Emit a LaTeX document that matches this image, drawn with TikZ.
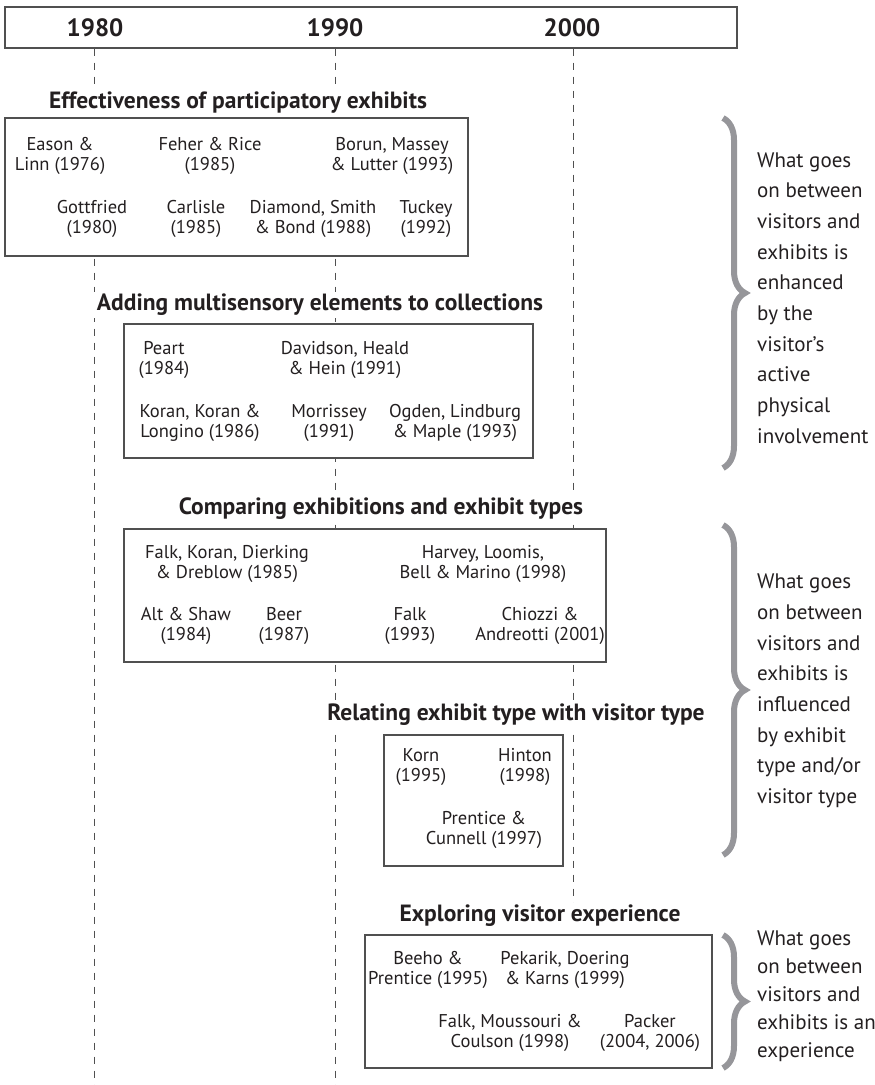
\documentclass[tikz,border=0pt]{standalone}
\usepackage{fontspec}
\setmainfont{PT Sans}
\usetikzlibrary{positioning,decorations.pathreplacing}
\definecolor{ink}{RGB}{35,31,32}
\definecolor{rule}{RGB}{80,80,80}
\definecolor{bracegray}{RGB}{150,150,154}

\tikzset{
  year/.style={font=\bfseries\fontsize{25}{28}\selectfont, text=ink},
  heading/.style={font=\bfseries\fontsize{23.5}{26}\selectfont, text=ink, fill=white, inner xsep=6pt, inner ysep=2pt},
  panel/.style={draw=rule, line width=1.1pt, fill=white, inner sep=0pt},
  study/.style={font=\fontsize{18.5}{19.5}\selectfont, text=ink, align=center, inner sep=0pt},
  note/.style={font=\fontsize{21}{30.7}\selectfont, text=ink, align=left, anchor=west, inner sep=0pt},
  tick/.style={draw=rule, line width=0.8pt, dash pattern=on 7pt off 7pt},
  bracket/.style={draw=bracegray, line width=6pt, decorate, decoration={brace, amplitude=22pt}}
}

\begin{document}
\begin{tikzpicture}[x=1pt, y=-1pt]
\useasboundingbox (0,0) rectangle (875,1085);

% Timeline header
\node[draw=rule, line width=1.1pt, minimum width=732, minimum height=41, inner sep=0pt] (header) at (371,27.5) {};
\node[year] (y1980) at (95,28) {1980};
\node[year] (y1990) at (335,28) {1990};
\node[year] (y2000) at (572,28) {2000};

% Decade lines
\coordinate (e1980) at (94,1085);
\coordinate (e1990) at (335,1085);
\coordinate (e2000) at (573,903);
\draw[tick] (header.south -| e1980) -- (e1980);
\draw[tick] (header.south -| e1990) -- (e1990);
\draw[tick] (header.south -| e2000) -- (e2000);

% Effectiveness of participatory exhibits
\node[heading] (t1) at (238,103) {Effectiveness of participatory exhibits};
\node[panel, minimum width=463, minimum height=138] (b1) at (236.5,187) {};
\node[study] (eason) at (60,156) {Eason \&\\Linn (1976)};
\node[study] (feher) at (210,156) {Feher \& Rice\\(1985)};
\node[study] (borun) at (392,156) {Borun, Massey\\\& Lutter (1993)};
\node[study] (gottfried) at (92,219) {Gottfried\\(1980)};
\node[study] (carlisle) at (196,219) {Carlisle\\(1985)};
\node[study] (diamond) at (313,219) {Diamond, Smith\\\& Bond (1988)};
\node[study] (tuckey) at (426,219) {Tuckey\\(1992)};

% Adding multisensory elements
\node[heading] (t2) at (320,305) {Adding multisensory elements to collections};
\node[panel, minimum width=409, minimum height=134] (b2) at (328.5,391) {};
\node[study] (peart) at (164,360) {Peart\\(1984)};
\node[study] (davidson) at (345,360) {Davidson, Heald\\\& Hein (1991)};
\node[study] (koran) at (200,423) {Koran, Koran \&\\Longino (1986)};
\node[study] (morrissey) at (329,423) {Morrissey\\(1991)};
\node[study] (ogden) at (455,423) {Ogden, Lindburg\\\& Maple (1993)};

% Comparing exhibitions
\node[heading] (t3) at (381,509) {Comparing exhibitions and exhibit types};
\node[panel, minimum width=482, minimum height=133] (b3) at (365,595.5) {};
\node[study] (falkkoran) at (227,564) {Falk, Koran, Dierking\\\& Dreblow (1985)};
\node[study] (harvey) at (483,564) {Harvey, Loomis,\\Bell \& Marino (1998)};
\node[study] (alt) at (186,626) {Alt \& Shaw\\(1984)};
\node[study] (beer) at (284,626) {Beer\\(1987)};
\node[study] (falk) at (410,626) {Falk\\(1993)};
\node[study] (chiozzi) at (540,626) {Chiozzi \&\\Andreotti (2001)};

% Relating exhibit type with visitor type
\node[heading] (t4) at (516,715) {Relating exhibit type with visitor type};
\node[panel, minimum width=179, minimum height=131] (b4) at (473.5,800.5) {};
\node[study] (korn) at (421,767) {Korn\\(1995)};
\node[study] (hinton) at (525,767) {Hinton\\(1998)};
\node[study] (prentice) at (484,830) {Prentice \&\\Cunnell (1997)};

% Exploring visitor experience
\node[heading] (t5) at (540,916) {Exploring visitor experience};
\node[panel, minimum width=347, minimum height=133] (b5) at (538.5,1001.5) {};
\node[study] (beeho) at (428,970) {Beeho \&\\Prentice (1995)};
\node[study] (pekarik) at (565,970) {Pekarik, Doering\\\& Karns (1999)};
\node[study] (moussouri) at (510,1033) {Falk, Moussouri \&\\Coulson (1998)};
\node[study] (packer) at (650,1033) {Packer\\(2004, 2006)};

% Braces and what they say
\coordinate (k1a) at (723,118);
\coordinate (k1b) at (723,468);
\coordinate (k2a) at (723,525);
\coordinate (k2b) at (723,855);
\coordinate (k3a) at (723,935);
\coordinate (k3b) at (723,1068);
\draw[bracket] (k1a) -- (k1b);
\draw[bracket] (k2a) -- (k2b);
\draw[bracket] (k3a) -- (k3b);
\node[note] (n1) at (757,298) {What goes\\on between\\visitors and\\exhibits is\\enhanced\\by the\\visitor's\\active\\physical\\involvement};
\node[note] (n2) at (757,691) {What goes\\on between\\visitors and\\exhibits is\\influenced\\by exhibit\\type and/or\\visitor type};
\node[note, font=\fontsize{21}{28}\selectfont] (n3) at (757,996) {What goes\\on between\\visitors and\\exhibits is an\\experience};
\end{tikzpicture}
\end{document}
